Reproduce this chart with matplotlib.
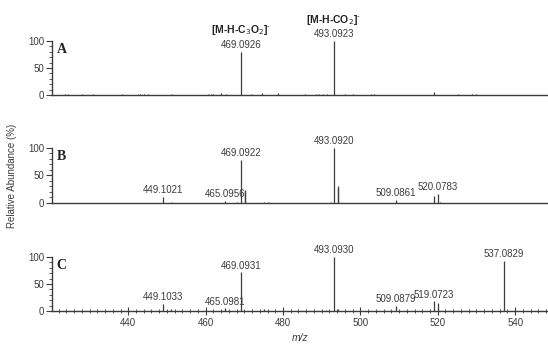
import matplotlib.pyplot as plt
import numpy as np
from matplotlib.ticker import MultipleLocator

plt.rcParams['font.family'] = ['Liberation Sans', 'DejaVu Sans']

# spectrum A
mz_a = [423.7, 424.3, 428.0, 430.8, 438.5, 442.5, 443.0, 444.1, 445.0, 451.3,
        460.5, 461.4, 461.8, 464.0, 465.3, 469.0926, 471.7, 474.5, 478.6, 485.7,
        488.6, 489.4, 490.3, 491.3, 493.0923, 496.1, 498.2, 502.8, 503.6, 519.0,
        525.2, 528.9, 530.0]
int_a = [1.5, 1.5, 1.5, 1.5, 1.5, 1.5, 1.5, 1.5, 1.5, 1.5,
         1.5, 1.5, 1.5, 3.0, 1.5, 80, 1.5, 3.5, 3.5, 1.5,
         1.5, 1.5, 1.5, 1.5, 100, 1.5, 1.5, 1.5, 1.5, 5.0,
         1.5, 1.5, 1.5]
lab_a = [469.0926, 493.0923]

# spectrum B
mz_b = [449.1021, 451.0, 465.0956, 468.0, 469.0922, 470.096, 470.3, 475.0, 476.0,
        492.3, 493.0920, 494.096, 494.2, 509.0861, 519.07, 520.0783, 520.7]
int_b = [11, 2, 4, 2, 78, 24, 22, 2, 1, 2, 100, 31, 28, 6, 12, 17, 1.5]
lab_b = [449.1021, 465.0956, 469.0922, 493.0920, 509.0861, 520.0783]

# spectrum C
mz_c = [449.1033, 451.0, 465.0981, 468.0, 469.0931, 475.0, 491.2, 493.0930,
        494.2, 509.0879, 519.0723, 520.08, 537.0829]
int_c = [13, 3, 5, 2, 72, 3, 1.5, 100, 3, 10, 18, 14, 93]
lab_c = [449.1033, 465.0981, 469.0931, 493.0930, 509.0879, 519.0723, 537.0829]

dark = '#3c3c3c'
fig = plt.figure(figsize=(5.48, 3.44), dpi=100)

panels = [('A', mz_a, int_a, lab_a, 0.7238, 0.157),
          ('B', mz_b, int_b, lab_b, 0.4099, 0.160),
          ('C', mz_c, int_c, lab_c, 0.0959, 0.157)]

axes = []
for name, mz, inten, labs, bot, h in panels:
    ax = fig.add_axes([0.095, bot, 0.905, h])
    ax.vlines(mz, 0, inten, color=dark, lw=0.9)
    ax.set_xlim(420.3, 548.5)
    ax.set_ylim(0, 100)
    for s in ['top', 'right']:
        ax.spines[s].set_visible(False)
    for s in ['left', 'bottom']:
        ax.spines[s].set_color(dark)
        ax.spines[s].set_linewidth(1.0)
    ax.set_yticks([0, 50, 100])
    ax.yaxis.set_minor_locator(MultipleLocator(10))
    ax.tick_params(axis='y', which='major', length=4, width=0.8, labelsize=7,
                   colors=dark, pad=1.5)
    ax.tick_params(axis='y', which='minor', length=2.5, width=0.6, colors=dark)
    if name == 'C':
        ax.xaxis.set_major_locator(MultipleLocator(20))
        ax.xaxis.set_minor_locator(MultipleLocator(2))
        ax.tick_params(axis='x', which='major', direction='inout', length=6,
                       width=0.8, labelsize=7, colors=dark, pad=2)
        ax.tick_params(axis='x', which='minor', direction='inout', length=3,
                       width=0.6, colors=dark)
    else:
        ax.set_xticks([])
    for m, v in zip(mz, inten):
        if m in labs:
            ax.text(m, v + 3, f'{m:.4f}', ha='center', va='bottom', fontsize=7,
                    color=dark, clip_on=False)
    ax.text(421.5, 97, name, fontsize=10, fontweight='bold', va='top',
            family='Liberation Serif', color='#222222')
    axes.append(ax)

axes[0].text(469.0926, 120, '[M-H-C$_3$O$_2$]$^{\\text{-}}$', ha='center',
             va='center', fontsize=7.5, fontweight='bold', color='#222222',
             clip_on=False)
axes[0].text(493.0923, 139, '[M-H-CO$_2$]$^{\\text{-}}$', ha='center',
             va='center', fontsize=7.5, fontweight='bold', color='#222222',
             clip_on=False)

fig.text(0.022, 0.49, 'Relative Abundance (%)', rotation=90, ha='center',
         va='center', fontsize=7, color=dark)
fig.text(0.548, 0.018, 'm/z', style='italic', ha='center', va='center',
         fontsize=7.5, color=dark)

fig.savefig('out.png', dpi=100)
